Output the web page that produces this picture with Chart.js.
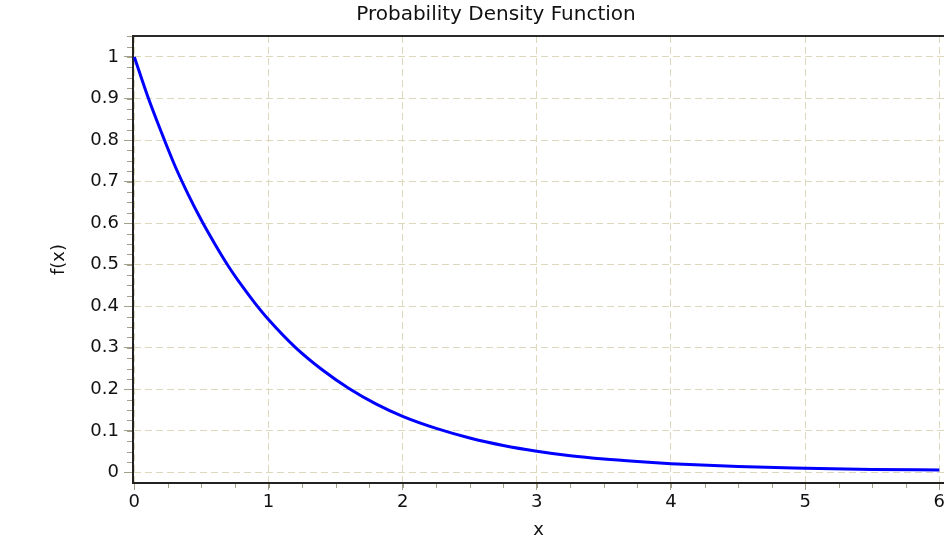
<!DOCTYPE html>
<html>
<head>
<meta charset="utf-8">
<script src="https://cdn.jsdelivr.net/npm/chart.js@4.4.1/dist/chart.umd.min.js"></script>
<style>
  html, body { margin: 0; padding: 0; background: #fff; }
  canvas { display: block; }
</style>
</head>
<body>
<canvas id="pdf" width="944" height="542"></canvas>
<script>
// values
const xValues = [0, 0.1, 0.2, 0.3, 0.4, 0.5, 0.6, 0.7, 0.8, 0.9, 1.0, 1.2, 1.4, 1.6, 1.8, 2.0,
                 2.25, 2.5, 2.75, 3.0, 3.25, 3.5, 3.75, 4.0, 4.5, 5.0, 5.5, 6.0];
const fValues = [1.0, 0.905, 0.82, 0.74, 0.67, 0.607, 0.55, 0.497, 0.45, 0.407, 0.368, 0.301, 0.247, 0.202, 0.165, 0.135,
                 0.106, 0.083, 0.065, 0.051, 0.04, 0.032, 0.026, 0.021, 0.014, 0.01, 0.007, 0.006];
const xTicks = [0, 1, 2, 3, 4, 5, 6];
const yTicks = [0, 0.1, 0.2, 0.3, 0.4, 0.5, 0.6, 0.7, 0.8, 0.9, 1];
const chartTitle = "Probability Density Function";

const fontFam = "'DejaVu Sans', sans-serif";
const gridColor = '#ddd8bc';
const tickMarkColor = '#a39f8b';

// title, minor ticks and the top frame line
const extras = {
    id: 'extras',
    afterDraw(chart) {
        const {ctx, chartArea: a, scales: {x, y}} = chart;
        ctx.save();
        ctx.strokeStyle = tickMarkColor;
        ctx.lineWidth = 1;
        ctx.beginPath();
        for (let i = 0; i <= 24; i++) {
            const px = Math.round(x.getPixelForValue(i * 0.25)) + 0.5;
            ctx.moveTo(px, a.bottom + 1);
            ctx.lineTo(px, a.bottom + 5);
        }
        for (let i = 0; i <= 42; i++) {
            const py = Math.round(y.getPixelForValue(i * 0.025)) + 0.5;
            ctx.moveTo(a.left - 6, py);
            ctx.lineTo(a.left - 1, py);
        }
        ctx.stroke();
        ctx.strokeStyle = '#2a2a2a';
        ctx.lineWidth = 2;
        ctx.beginPath();
        ctx.moveTo(a.left - 1, a.top);
        ctx.lineTo(a.right, a.top);
        ctx.stroke();

        ctx.fillStyle = '#111';
        ctx.font = "20px " + fontFam;
        ctx.textAlign = 'center';
        ctx.textBaseline = 'middle';
        ctx.fillText(chartTitle, 496, 15);
        ctx.restore();
    }
};

new Chart("pdf", {
    type: "line",
    data: {
        datasets: [{
            data: xValues.map((v, i) => ({x: v, y: fValues[i]})),
            borderColor: "#0000ff",
            borderWidth: 3,
            pointRadius: 0,
            fill: false,
            cubicInterpolationMode: "monotone"
        }]
    },
    options: {
        responsive: false,
        animation: false,
        devicePixelRatio: 1,
        layout: {padding: {top: 36, left: 0, right: 0, bottom: 0}},
        plugins: {
            legend: {display: false},
            tooltip: {enabled: false},
            title: {display: false}
        },
        scales: {
            x: {
                type: "linear",
                min: -0.01,
                max: 6.035,
                afterBuildTicks: s => { s.ticks = xTicks.map(v => ({value: v})); },
                afterFit: s => { s.height = 59; s.paddingRight = 0; s.paddingLeft = 0; },
                ticks: {
                    color: "#111",
                    font: {family: fontFam, size: 18},
                    padding: 2,
                    maxRotation: 0,
                    autoSkip: false,
                    callback: v => String(v)
                },
                grid: {color: gridColor, lineWidth: 1, tickLength: 7, tickColor: tickMarkColor, tickWidth: 1, tickBorderDash: []},
                border: {display: true, color: "#222", width: 2, dash: [7, 4]},
                title: {
                    display: true,
                    text: "x",
                    color: "#111",
                    font: {family: fontFam, size: 18, lineHeight: 1.2},
                    padding: {top: 0, bottom: 1}
                }
            },
            y: {
                type: "linear",
                min: -0.0255,
                max: 1.0505,
                afterBuildTicks: s => { s.ticks = yTicks.map(v => ({value: v})); },
                afterFit: s => { s.width = 133; s.paddingTop = 0; s.paddingBottom = 0; },
                ticks: {
                    color: "#111",
                    font: {family: fontFam, size: 18},
                    padding: 5,
                    callback: v => String(Math.round(v * 10) / 10)
                },
                grid: {color: gridColor, lineWidth: 1, tickLength: 9, tickColor: tickMarkColor, tickWidth: 1, tickBorderDash: []},
                border: {display: true, color: "#222", width: 2, dash: [7, 4]},
                title: {
                    display: true,
                    text: "f(x)",
                    color: "#111",
                    font: {family: fontFam, size: 18, lineHeight: 1.2},
                    padding: {top: 49, bottom: 0}
                }
            }
        }
    },
    plugins: [extras]
});
</script>
</body>
</html>
